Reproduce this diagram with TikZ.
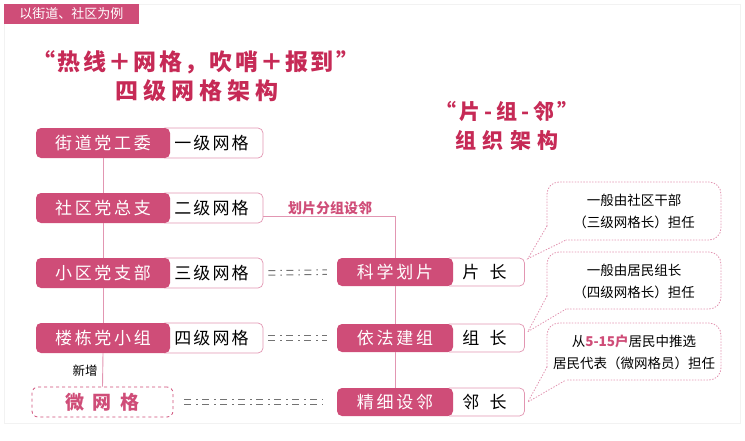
\documentclass[tikz,border=0pt]{standalone}
\usepackage{fontspec}
\setmainfont{Noto Sans CJK SC}
\usepackage{xcolor}
\usetikzlibrary{calc,positioning}

\definecolor{rosered}{RGB}{207,77,120}
\definecolor{rosedark}{RGB}{198,42,86}
\definecolor{roseline}{RGB}{226,150,178}
\definecolor{dashgray}{RGB}{115,115,115}

\newcommand{\fsz}[2]{\fontsize{#1}{#2}\selectfont}

\begin{document}
\begin{tikzpicture}[
  x=1pt, y=-1pt,
  tag/.style={fill=rosered, text=white, inner sep=0pt, font=\fsz{13}{14}},
  title/.style={text=rosedark, inner sep=0pt, font=\fsz{23}{26}\bfseries},
  orgbox/.style={fill=rosered, text=white, rounded corners=5pt, minimum width=134pt,
    minimum height=30pt, inner sep=0pt, font=\fsz{17}{18}\addfontfeatures{LetterSpace=16}},
  gridbox/.style={draw=roseline, fill=white, text=black, rounded corners=5pt, minimum width=103pt,
    minimum height=30pt, inner sep=0pt, line width=0.7pt, font=\fsz{17}{18}\addfontfeatures{LetterSpace=12}},
  microbox/.style={draw=rosered, dashed, fill=white, text=rosered, rounded corners=6pt, minimum width=141pt,
    minimum height=30pt, inner sep=0pt, line width=0.8pt, font=\fsz{19}{20}\bfseries\addfontfeatures{LetterSpace=45}},
  link/.style={draw=roseline, line width=0.9pt},
  dashrow/.style={draw=dashgray, line width=1pt, dash pattern=on 7pt off 5pt on 1.5pt off 4.5pt},
  dashlink/.style={draw=none,
    preaction={dashrow, transform canvas={yshift=2.3pt}},
    postaction={dashrow, transform canvas={yshift=-2.3pt}}},
  notebox/.style={draw=roseline, dotted, line width=0.9pt, line cap=round},
  note/.style={align=center, inner sep=0pt, font=\fsz{13.5}{22}}
]
  \useasboundingbox (0,0) rectangle (745,440);
  \draw[gray!10] (4,4) rectangle (740,423);

  % tag and titles
  \node[tag, minimum width=135pt, minimum height=20pt] (tag) at (71.5,14) {以街道、社区为例};
  \node[title] (t1) at (196,62) {\addfontfeatures{LetterSpace=10}“热线＋网格，吹哨＋报到”};
  \node[title] (t2) at (197,91) {\addfontfeatures{LetterSpace=22}四级网格架构};
  \node[title, font=\fsz{21}{24}\bfseries] (t3) at (507,111) {\addfontfeatures{LetterSpace=18}“片-组-邻”};
  \node[title, font=\fsz{21}{24}\bfseries] (t4) at (507,140) {\addfontfeatures{LetterSpace=30}组织架构};

  % four-level grid, left column
  \node[gridbox] (g1) at (211.5,143) {一级网格};
  \node[gridbox] (g2) at (211.5,208) {二级网格};
  \node[gridbox] (g3) at (211.5,273) {三级网格};
  \node[gridbox] (g4) at (211.5,338) {四级网格};
  \node[orgbox] (jd) at (103,143) {街道党工委};
  \node[orgbox] (sq) at (103,208) {社区党总支};
  \node[orgbox] (xq) at (103,273) {小区党支部};
  \node[orgbox] (ld) at (103,338) {楼栋党小组};
  \node[microbox] (wg) at (102.5,402) {微网格};

  \draw[link] (jd.south) -- (sq.north);
  \draw[link] (sq.south) -- (xq.north);
  \draw[link] (xq.south) -- (ld.north);
  \draw[link] (ld.south) -- (wg.north);
  \node[font=\fsz{12.5}{14}] (xz) at (85,371) {新增};

  % piece - group - neighbour, right column
  \node[gridbox, minimum width=80pt, minimum height=28pt] (pz) at (484.5,272) {片\hspace{0.6em}长};
  \node[gridbox, minimum width=80pt, minimum height=28pt] (zz) at (484.5,338) {组\hspace{0.6em}长};
  \node[gridbox, minimum width=80pt, minimum height=28pt] (lz) at (484.5,402) {邻\hspace{0.6em}长};
  \node[orgbox, minimum width=116pt, minimum height=28pt] (kx) at (395,272) {科学划片};
  \node[orgbox, minimum width=116pt, minimum height=28pt] (yf) at (395,338) {依法建组};
  \node[orgbox, minimum width=116pt, minimum height=28pt] (jx) at (395,402) {精细设邻};

  \draw[link] ([yshift=-8pt]g2.east) -| (kx.north);
  \node[text=rosered, font=\fsz{14}{15}\bfseries] (hp) at (330,208) {划片分组设邻};
  \draw[link] (kx.south) -- (yf.north);
  \draw[link] (yf.south) -- (jx.north);

  % level links
  \path[dashlink, shorten <=5pt, shorten >=10pt] (g3.east) -- (kx.west);
  \path[dashlink, shorten <=5pt, shorten >=10pt] (g4.east) -- (yf.west);
  \path[dashlink, shorten <=11pt, shorten >=14pt] (wg.east) -- (jx.west);

  % notes
  \node[note] (n1) at (634,211) {一般由社区干部\\（三级网格长）担任};
  \draw[notebox, rounded corners=12pt] (547,226) -- (547,182) -- (721,182) -- (721,240) -- (566,240);
  \draw[notebox] (547,226) -- ($(pz.north east)+(3,1)$) -- (566,240);

  \node[note] (n2) at (634,281) {一般由居民组长\\（四级网格长）担任};
  \draw[notebox, rounded corners=12pt] (547,296) -- (547,252) -- (721,252) -- (721,309) -- (566,309);
  \draw[notebox] (547,296) -- ($(zz.north east)+(3,8)$) -- (566,309);

  \node[note] (n3) at (634,352) {从\textcolor{rosered}{\bfseries 5-15户}居民中推选\\居民代表（微网格员）担任};
  \draw[notebox, rounded corners=12pt] (547,367) -- (547,323) -- (721,323) -- (721,380) -- (566,380);
  \draw[notebox] (547,367) -- ($(lz.east)+(3,0)$) -- (566,380);
\end{tikzpicture}
\end{document}
